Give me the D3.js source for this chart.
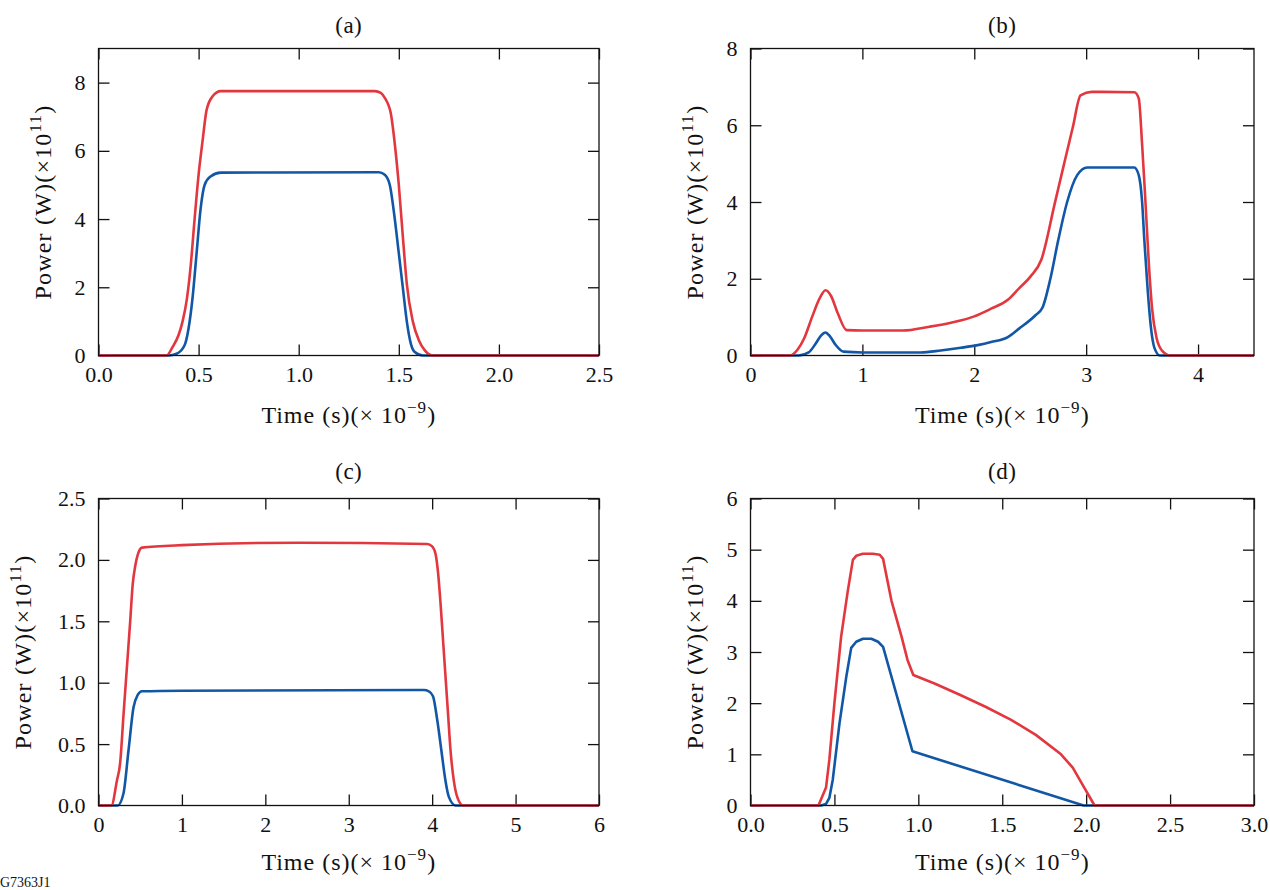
<!DOCTYPE html>
<html><head><meta charset="utf-8">
<script src="https://cdn.jsdelivr.net/npm/d3@7"></script>
<style>
body{margin:0;background:#fff}
svg{display:block}
text{font-family:"Liberation Serif","Times New Roman",serif;fill:#111}
</style>
</head><body>
<svg id="chart" width="1270" height="890"></svg>
<script>
// ---- Panel (a) ----
const tRedA  = [0,0.34,0.37,0.40,0.42,0.44,0.46,0.48,0.50,0.52,0.54,0.57,0.61,1.38,1.41,1.43,1.46,1.48,1.50,1.52,1.54,1.57,1.60,1.63,1.67,2.5];
const redA   = [0,0,0.25,0.6,1.0,1.6,2.6,4.0,5.3,6.3,7.2,7.6,7.75,7.75,7.7,7.55,7.1,6.2,5.0,3.5,2.1,1.0,0.45,0.15,0,0];
const tBlueA = [0,0.35,0.39,0.43,0.45,0.47,0.49,0.51,0.53,0.56,0.61,1.40,1.43,1.455,1.48,1.50,1.52,1.54,1.56,1.58,1.62,2.5];
const blueA  = [0,0,0.05,0.3,0.8,1.7,3.0,4.3,5.0,5.25,5.36,5.37,5.3,5.0,4.0,3.0,2.0,1.0,0.35,0.1,0,0];
const xTicksA = [0,0.5,1.0,1.5,2.0,2.5];
const yTicksA = [0,2,4,6,8];

// ---- Panel (b) ----
const tRedB  = [0,0.35,0.42,0.48,0.55,0.62,0.67,0.72,0.78,0.86,1.0,1.36,1.6,1.8,2.0,2.15,2.3,2.4,2.5,2.6,2.72,2.8,2.88,2.95,3.05,3.43,3.47,3.50,3.53,3.56,3.59,3.63,3.68,3.75,4.5];
const redB   = [0,0,0.15,0.45,1.0,1.5,1.7,1.55,1.1,0.66,0.65,0.65,0.75,0.86,1.02,1.22,1.45,1.75,2.05,2.5,3.97,4.96,5.94,6.78,6.87,6.86,6.7,5.5,4.0,2.4,1.2,0.45,0.12,0,0];
const tBlueB = [0,0.43,0.52,0.58,0.63,0.67,0.71,0.76,0.83,1.0,1.52,1.7,1.88,2.03,2.15,2.3,2.4,2.54,2.61,2.68,2.75,2.83,2.92,3.01,3.43,3.47,3.50,3.52,3.55,3.58,3.61,3.66,4.5];
const blueB  = [0,0,0.08,0.3,0.52,0.6,0.5,0.28,0.1,0.08,0.08,0.13,0.2,0.27,0.35,0.48,0.7,1.03,1.25,2.0,3.0,4.0,4.7,4.9,4.9,4.7,4.0,3.0,1.7,0.7,0.2,0,0];
const xTicksB = [0,1,2,3,4];
const yTicksB = [0,2,4,6,8];

// ---- Panel (c) ----
const tRedC  = [0,0.155,0.22,0.26,0.30,0.34,0.38,0.41,0.44,0.47,0.52,1.0,2.4,3.94,4.0,4.04,4.07,4.10,4.13,4.16,4.19,4.22,4.26,4.30,4.37,6];
const redC   = [0,0,0.2,0.35,0.74,1.12,1.5,1.8,1.95,2.04,2.1,2.12,2.14,2.13,2.11,2.05,1.9,1.65,1.35,1.05,0.75,0.45,0.2,0.07,0,0];
const tBlueC = [0,0.23,0.30,0.36,0.42,0.47,0.52,1.0,3.9,3.96,4.01,4.06,4.11,4.16,4.20,4.28,6];
const blueC  = [0,0,0.1,0.45,0.8,0.9,0.93,0.935,0.94,0.93,0.89,0.7,0.45,0.2,0.07,0,0];
const xTicksC = [0,1,2,3,4,5,6];
const yTicksC = [0,0.5,1.0,1.5,2.0,2.5];

// ---- Panel (d) ----
const tRedD  = [0,0.405,0.45,0.47,0.50,0.54,0.58,0.61,0.63,0.67,0.73,0.77,0.79,0.84,0.90,0.935,0.97,1.1,1.25,1.4,1.55,1.7,1.85,1.92,1.98,2.05,3.0];
const redD   = [0,0,0.35,0.9,2.0,3.3,4.2,4.8,4.88,4.92,4.92,4.9,4.82,4.0,3.3,2.85,2.55,2.38,2.16,1.93,1.68,1.38,1.0,0.74,0.4,0,0];
const tBlueD = [0,0.42,0.45,0.47,0.49,0.53,0.57,0.60,0.63,0.67,0.72,0.76,0.79,0.965,1.985,3.0];
const blueD  = [0,0,0.03,0.15,0.5,1.6,2.5,3.08,3.2,3.26,3.26,3.2,3.1,1.06,0,0];
const xTicksD = [0,0.5,1.0,1.5,2.0,2.5,3.0];
const yTicksD = [0,1,2,3,4,5,6];

const RED = "#e3373f", BLUE = "#1157a6";

const panels = [
  {title:"(a)", x0:98.5, x1:599, y0:48.5, y1:355.5, xDom:[0,2.5], yDom:[0,9], xt:xTicksA, yt:yTicksA, xf:d3.format(".1f"), yf:d3.format("d"),
   red:[tRedA,redA], blue:[tBlueA,blueA], ylabX:51, titleY:33, xlabY:423, curve:d3.curveMonotoneX},
  {title:"(b)", x0:750.5, x1:1254, y0:48.5, y1:355.5, xDom:[0,4.5], yDom:[0,8], xt:xTicksB, yt:yTicksB, xf:d3.format("d"), yf:d3.format("d"),
   red:[tRedB,redB], blue:[tBlueB,blueB], ylabX:703, titleY:33, xlabY:423, curve:d3.curveMonotoneX},
  {title:"(c)", x0:98.5, x1:599, y0:498.5, y1:805.5, xDom:[0,6], yDom:[0,2.5], xt:xTicksC, yt:yTicksC, xf:d3.format("d"), yf:d3.format(".1f"),
   red:[tRedC,redC], blue:[tBlueC,blueC], ylabX:31, titleY:479, xlabY:870, curve:d3.curveMonotoneX},
  {title:"(d)", x0:750.5, x1:1254, y0:498.5, y1:805.5, xDom:[0,3], yDom:[0,6], xt:xTicksD, yt:yTicksD, xf:d3.format(".1f"), yf:d3.format("d"),
   red:[tRedD,redD], blue:[tBlueD,blueD], ylabX:703, titleY:479, xlabY:870, curve:d3.curveLinear}
];

const svg = d3.select("#chart");
const TICK = 11, FS = 22;

panels.forEach(p => {
  const g = svg.append("g");
  const x = d3.scaleLinear().domain(p.xDom).range([p.x0, p.x1]);
  const y = d3.scaleLinear().domain(p.yDom).range([p.y1, p.y0]);

  const style = sel => {
    sel.attr("font-family", null).attr("font-size", null);
    sel.select(".domain").remove();
    sel.selectAll(".tick line").attr("stroke", "#111").attr("stroke-width", 1.3);
    sel.selectAll(".tick text").attr("font-size", FS).attr("fill", "#111");
  };

  g.append("g").attr("transform", `translate(0,${p.y1})`)
    .call(d3.axisBottom(x).tickValues(p.xt).tickFormat(p.xf).tickSizeInner(-TICK).tickSizeOuter(0).tickPadding(11))
    .call(style);
  g.append("g").attr("transform", `translate(0,${p.y0})`)
    .call(d3.axisTop(x).tickValues(p.xt).tickFormat("").tickSizeInner(-TICK).tickSizeOuter(0))
    .call(style);
  g.append("g").attr("transform", `translate(${p.x0},0)`)
    .call(d3.axisLeft(y).tickValues(p.yt).tickFormat(p.yf).tickSizeInner(-TICK).tickSizeOuter(0).tickPadding(13))
    .call(style);
  g.append("g").attr("transform", `translate(${p.x1},0)`)
    .call(d3.axisRight(y).tickValues(p.yt).tickFormat("").tickSizeInner(-TICK).tickSizeOuter(0))
    .call(style);

  const line = d3.line().x(d => x(d[0])).y(d => y(d[1])).curve(p.curve);
  const toPts = (ts, vs) => ts.map((t, i) => [t, vs[i]]);

  g.append("path").attr("d", line(toPts(p.blue[0], p.blue[1])))
    .attr("fill", "none").attr("stroke", BLUE).attr("stroke-width", 2.6).attr("stroke-linejoin", "round");
  g.append("path").attr("d", line(toPts(p.red[0], p.red[1])))
    .attr("fill", "none").attr("stroke", RED).attr("stroke-width", 2.6).attr("stroke-linejoin", "round");

  g.append("rect").attr("x", p.x0).attr("y", p.y0).attr("width", p.x1 - p.x0).attr("height", p.y1 - p.y0)
    .attr("fill", "none").attr("stroke", "#111").attr("stroke-width", 1.3);

  const cx = (p.x0 + p.x1) / 2, cy = (p.y0 + p.y1) / 2;
  g.append("text").attr("x", cx).attr("y", p.titleY).attr("text-anchor", "middle")
    .attr("font-size", 23).attr("letter-spacing", 0.5).text(p.title);

  const xl = g.append("text").attr("x", cx).attr("y", p.xlabY).attr("text-anchor", "middle")
    .attr("font-size", 24).attr("letter-spacing", 1);
  xl.append("tspan").text("Time (s)(× 10");
  xl.append("tspan").attr("font-size", 17).attr("dy", -10).text("−9");
  xl.append("tspan").attr("dy", 10).text(")");

  const yl = g.append("text").attr("transform", `translate(${p.ylabX},${cy}) rotate(-90)`).attr("text-anchor", "middle")
    .attr("font-size", 24).attr("letter-spacing", 1.2);
  yl.append("tspan").text("Power (W)(×10");
  yl.append("tspan").attr("font-size", 17).attr("dy", -10).text("11");
  yl.append("tspan").attr("dy", 10).text(")");
});

svg.append("text").attr("x", 0).attr("y", 887).attr("font-size", 14).text("G7363J1");
</script>
</body></html>
